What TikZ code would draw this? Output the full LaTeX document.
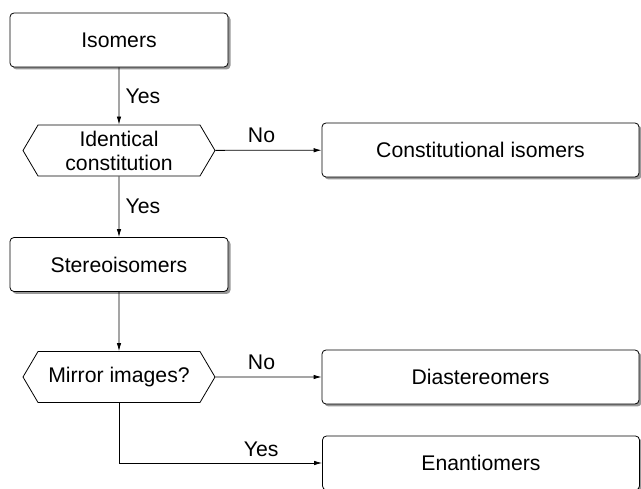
\documentclass[tikz,border=0pt]{standalone}
\usepackage{fontspec}
\setmainfont{Liberation Sans}
\usetikzlibrary{arrows.meta,shadows,shapes.symbols}
\begin{document}
\begin{tikzpicture}[x=1pt,y=-1pt,line width=0.8pt,font=\fontsize{21.2}{24}\selectfont,
	box/.style={draw,rounded corners=4pt,fill=white,minimum height=54pt,inner sep=0pt,
		drop shadow={shadow xshift=2.5pt,shadow yshift=-2.5pt,fill=black!40,opacity=1}},
	hexa/.style={draw,signal,signal to=west and east,signal pointer angle=119,
		minimum width=192pt,minimum height=51pt,inner sep=0pt,align=center},
	arr/.style={-{Latex[length=8pt,width=4.5pt]}}]
	\useasboundingbox (0,0) rectangle (641,489);

	%left column
	\node[box,minimum width=218pt] (iso) at (119,40) {Isomers};
	\node[hexa] (ident) at (119,150.5) {Identical\\constitution};
	\node[box,minimum width=218pt] (stereo) at (119,264.5) {Stereoisomers};
	\node[hexa] (mirror) at (119,377) {Mirror images?};

	%right column
	\node[box,minimum width=317pt] (const) at (480.5,150) {Constitutional isomers};
	\node[box,minimum width=317pt] (dia) at (480.5,377) {Diastereomers};
	\node[box,minimum width=317pt] (enant) at (481,463) {Enantiomers};

	%arrows
	\draw[arr] (iso) -- node[right=3pt] {Yes} (ident);
	\draw[arr] (ident) -- node[above=4pt,xshift=-7pt] {No} (const);
	\draw[arr] (ident) -- node[right=3pt] {Yes} (stereo);
	\draw[arr] (stereo) -- (mirror);
	\draw[arr] (mirror) -- node[above=4pt,xshift=-7pt] {No} (dia);
	\draw[arr] (mirror.south) |- node[pos=0.85,above=3pt] {Yes} (enant.west); %lower branch
\end{tikzpicture}
\end{document}
